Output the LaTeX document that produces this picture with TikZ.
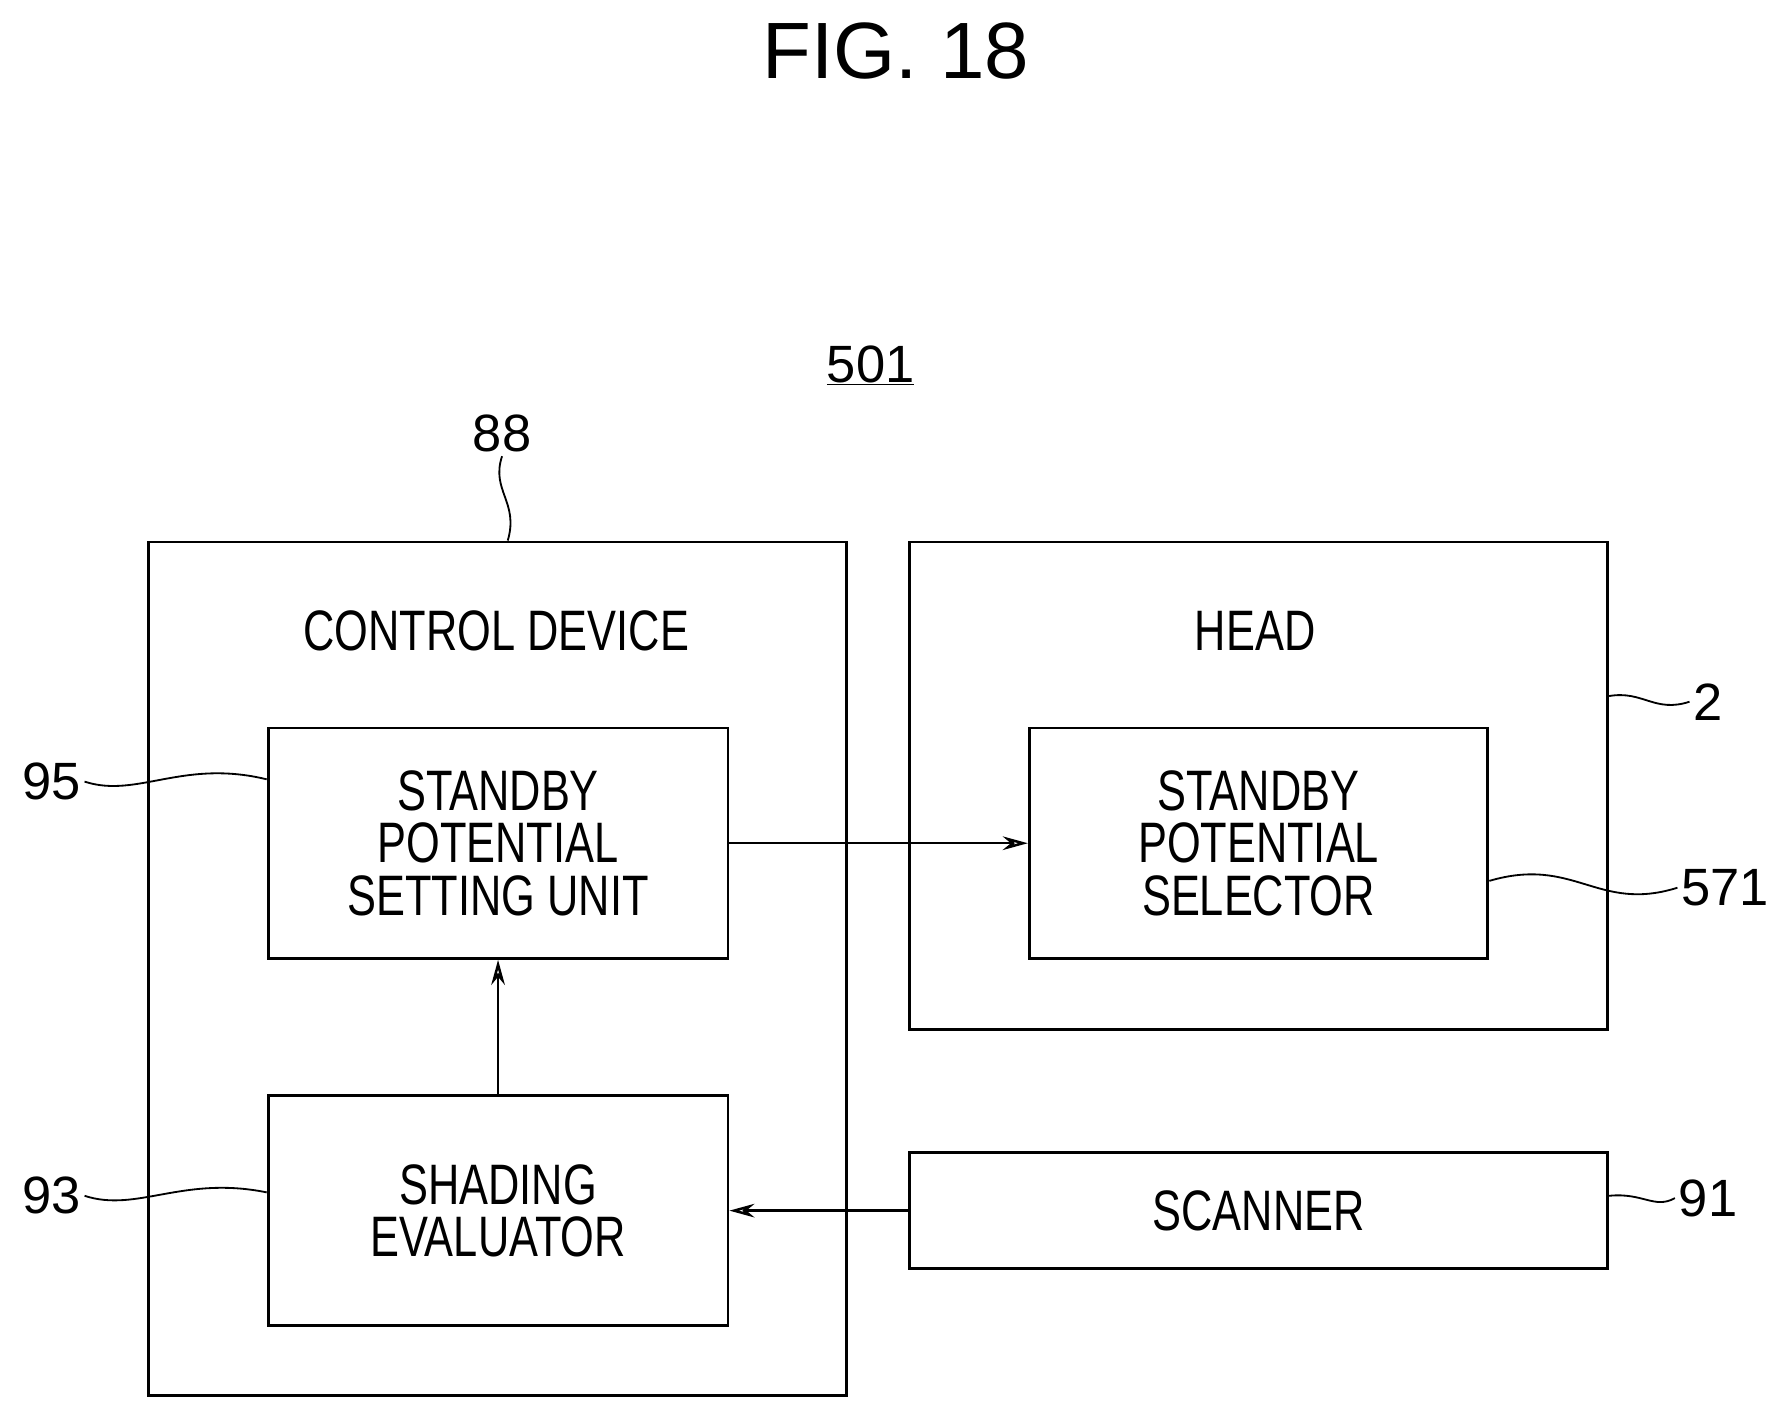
\documentclass[tikz,border=0pt]{standalone}
\usepackage{fontspec}
\setmainfont{Liberation Sans}[FakeStretch=0.76]
\newfontfamily\widefont{Liberation Sans}
\usetikzlibrary{arrows.meta, positioning}

\tikzset{
    box/.style={draw, line width=2.5pt, inner sep=0pt},
    lbl/.style={font=\fontsize{50}{46}\selectfont, align=center},
    num/.style={font=\widefont\fontsize{46}{46}\selectfont},
    lead/.style={line width=1.6pt},
    flow/.style={line width=2.2pt, -{Stealth[length=22pt, width=12pt, open]}}
}

\begin{document}
\begin{tikzpicture}[x=1pt, y=-1pt]
    \useasboundingbox (0,0) rectangle (1560,1238);

    \node[font=\widefont\fontsize{70}{70}\selectfont] (fig) at (785,45) {FIG. 18};
    \node[num] (sys) at (763,320) {\underline{501}};

    % blocks
    \node[box, minimum width=612pt, minimum height=748pt] (ctrl) at (436,849) {};
    \node[box, minimum width=612pt, minimum height=427pt] (head) at (1103,688.5) {};
    \node[box, minimum width=403pt, minimum height=202pt, lbl] (setu) at (436.5,739) {STANDBY\\POTENTIAL\\SETTING UNIT};
    \node[box, minimum width=403pt, minimum height=202pt, lbl] (shad) at (436.5,1061) {SHADING\\EVALUATOR};
    \node[box, minimum width=402pt, minimum height=202pt, lbl] (sel) at (1103,739) {STANDBY\\POTENTIAL\\SELECTOR};
    \node[box, minimum width=612pt, minimum height=102pt, lbl] (scan) at (1103,1061) {SCANNER};

    \node[lbl] (ctrlt) at (435,553) {CONTROL DEVICE};
    \node[lbl] (headt) at (1100,553) {HEAD};

    % reference numerals
    \node[num] (n88) at (440,380) {88};
    \node[num] (n95) at (45,685) {95};
    \node[num] (n93) at (45,1048) {93};
    \node[num] (n2) at (1497,615) {2};
    \node[num] (n571) at (1512,778) {571};
    \node[num] (n91) at (1497,1050) {91};

    \draw[lead] (n88.south) .. controls (430,430) and (455,440) .. (ctrl.north -| 445,0);
    \draw[lead] (n95.east) .. controls (120,700) and (160,665) .. (setu.west |- 0,683);
    \draw[lead] (n93.east) .. controls (120,1063) and (160,1030) .. (shad.west |- 0,1045);
    \draw[lead] (head.east |- 0,610) .. controls (1440,605) and (1450,625) .. (n2.west);
    \draw[lead] (sel.east |- 0,772) .. controls (1380,750) and (1400,800) .. (n571.west);
    \draw[lead] (scan.east |- 0,1048) .. controls (1440,1045) and (1450,1060) .. (n91.west);

    % signal flow
    \draw[flow] (setu.east) -- (sel.west);
    \draw[flow] (shad.north) -- (setu.south);
    \draw[flow] (scan.west) -- (shad.east);
\end{tikzpicture}
\end{document}
